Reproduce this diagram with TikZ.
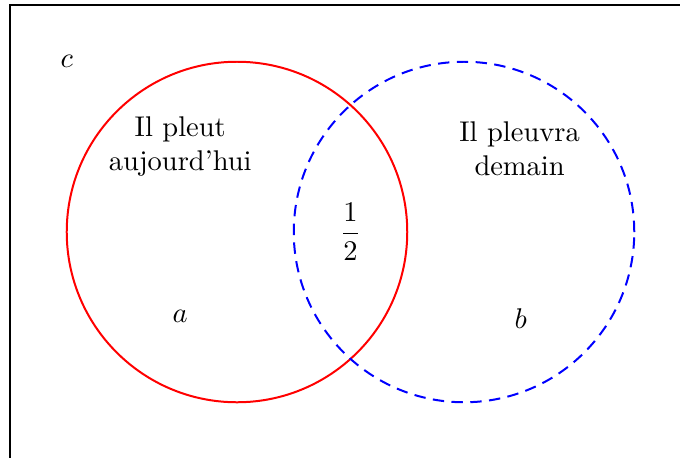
\documentclass[tikz,border=0pt]{standalone}
\begin{document}
\begin{tikzpicture}[x=1.4cm,y=1.4cm,
  setline/.style={line width=0.7pt},
  lbl/.style={align=center, inner sep=1pt}]
\useasboundingbox (-2.088,-1.991) rectangle (3.903,2.044);
\begin{scope}
\clip (-2.088,-1.991) rectangle (3.903,2.044);
\draw[line width=0.8pt] (-2,-2.05) rectangle (4.05,2.0);
\end{scope}
\draw[setline, red] (0,0) circle (1.5);
\draw[setline, blue, dash pattern=on 4pt off 2.6pt] (2,0) circle (1.5);
\node[lbl] (c) at (-1.5,1.505) {$c$};
\node[lbl] (A) at (-0.5,0.755) {Il pleut\\aujourd'hui};
\node[lbl] (B) at (2.49,0.735) {Il pleuvra\\demain};
\node[lbl] (AB) at (1.0,0) {$\displaystyle\frac{1}{2}$};
\node[lbl] (a) at (-0.5,-0.74) {$a$};
\node[lbl] (b) at (2.5,-0.76) {$b$};
\end{tikzpicture}
\end{document}
